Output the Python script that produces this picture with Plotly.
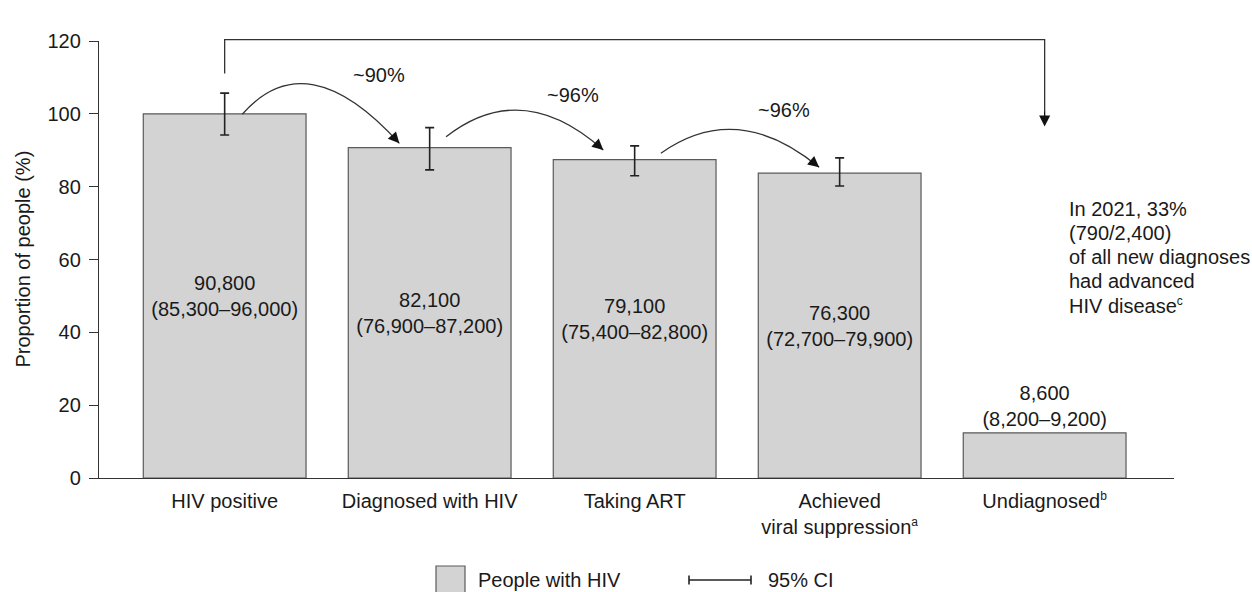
import plotly.graph_objects as go

# ---- data -------------------------------------------------------------
SUP = "<sup><span style='font-size:12px'>{}</span></sup>"
categories = [
    "HIV positive",
    "Diagnosed with HIV",
    "Taking ART",
    "Achieved<br>viral suppression" + SUP.format("a"),
    "Undiagnosed" + SUP.format("b"),
]
proportion = [100.0, 90.7, 87.4, 83.7, 12.4]          # % of people with HIV
ci_upper = [105.7, 96.2, 91.2, 87.9, None]
ci_lower = [94.2, 84.6, 83.0, 80.2, None]
counts = ["90,800", "82,100", "79,100", "76,300", "8,600"]
count_ranges = [
    "(85,300–96,000)",
    "(76,900–87,200)",
    "(75,400–82,800)",
    "(72,700–79,900)",
    "(8,200–9,200)",
]
step_labels = ["~90%", "~96%", "~96%"]
overall_label = "~9%"
note_lines = [
    "In 2021, 33%",
    "(790/2,400)",
    "of all new diagnoses",
    "had advanced",
    "HIV disease" + SUP.format("c"),
]
y_ticks = [0, 20, 40, 60, 80, 100, 120]

# ---- page geometry ------------------------------------------------------
W, H = 1252, 592
M_L, M_R, M_T, M_B = 99, 78, 41, 114
X_RANGE = [-0.613, 4.631]
Y_RANGE = [0, 120]
FONT = "Liberation Sans, Arial, Helvetica, sans-serif"
TXT = "#1a1a1a"
LINE = "#333333"

plot_w = W - M_L - M_R
plot_h = H - M_T - M_B


def px_to_paper_x(px):
    return (px - M_L) / plot_w


def px_to_paper_y(py):
    return (H - M_B - py) / plot_h


def data_to_paper_x(x):
    return (x - X_RANGE[0]) / (X_RANGE[1] - X_RANGE[0])


def data_to_paper_y(y):
    return (y - Y_RANGE[0]) / (Y_RANGE[1] - Y_RANGE[0])


x_idx = list(range(len(categories)))

fig = go.Figure()
fig.add_trace(
    go.Bar(
        x=x_idx,
        y=proportion,
        width=0.794,
        marker=dict(color="#d3d3d3", line=dict(color="#5a5a5a", width=1.2)),
        text=[f"{c}<br>{r}" for c, r in zip(counts, count_ranges)],
        textposition=["inside"] * 4 + ["outside"],
        insidetextanchor="middle",
        textangle=0,
        constraintext="none",
        cliponaxis=False,
        textfont=dict(size=20, color=TXT, family=FONT),
        hoverinfo="skip",
    )
)

# 95% confidence intervals, only where one is reported
ci_idx = [i for i, u in enumerate(ci_upper) if u is not None]
fig.add_trace(
    go.Scatter(
        x=[x_idx[i] for i in ci_idx],
        y=[proportion[i] for i in ci_idx],
        mode="markers",
        marker=dict(size=1, color="rgba(0,0,0,0)"),
        error_y=dict(
            type="data",
            symmetric=False,
            array=[ci_upper[i] - proportion[i] for i in ci_idx],
            arrayminus=[proportion[i] - ci_lower[i] for i in ci_idx],
            color="#222222",
            thickness=1.6,
            width=4.5,
        ),
        hoverinfo="skip",
    )
)

shapes = []
annotations = []

# ---- curved step arrows between consecutive bars -----------------------
# start / control / end offsets relative to the bar index and bar tops
step_arrows = [
    dict(s=(0.086, -0.1), c=(0.40, 120.0), e=(0.852, 1.2), pos=(0.755, 110.6)),
    dict(s=(0.080, 3.0), c=(0.45, 110.0), e=(0.847, 2.7), pos=(0.700, 105.1)),
    dict(s=(0.128, 1.8), c=(0.50, 104.0), e=(0.900, 1.6), pos=(0.729, 101.1)),
]
for i, (arr, label) in enumerate(zip(step_arrows, step_labels)):
    x0, y0 = i + arr["s"][0], proportion[i] + arr["s"][1]
    cx, cy = i + arr["c"][0], arr["c"][1]
    x1, y1 = i + arr["e"][0], proportion[i + 1] + arr["e"][1]
    shapes.append(
        dict(
            type="path",
            xref="x",
            yref="y",
            path=f"M {x0},{y0} Q {cx},{cy} {x1},{y1}",
            line=dict(color=LINE, width=1.3),
        )
    )
    k = 0.08
    annotations.append(
        dict(
            x=x1, y=y1, xref="x", yref="y",
            ax=x1 + k * (cx - x1), ay=y1 + k * (cy - y1), axref="x", ayref="y",
            text="", showarrow=True, arrowhead=2, arrowsize=1.7, arrowwidth=1.3,
            arrowcolor="#111111",
        )
    )
    annotations.append(
        dict(
            x=i + arr["pos"][0], y=arr["pos"][1], xref="x", yref="y", text=label,
            showarrow=False, font=dict(size=20, color=TXT, family=FONT),
        )
    )

# ---- overall bracket from first bar to last bar ------------------------
bx0, bx1 = 0, len(categories) - 1
b_top, b_left_bottom, b_tip = 120.4, 111.1, 96.5
shapes.append(
    dict(
        type="path",
        xref="paper",
        yref="paper",
        path=(
            f"M {data_to_paper_x(bx0)},{data_to_paper_y(b_left_bottom)} "
            f"V {data_to_paper_y(b_top)} "
            f"H {data_to_paper_x(bx1)} "
            f"V {data_to_paper_y(b_tip + 4)}"
        ),
        line=dict(color=LINE, width=1.3),
    )
)
annotations.append(
    dict(
        x=bx1, y=b_tip, xref="x", yref="y",
        ax=bx1, ay=b_tip + 4.5, axref="x", ayref="y",
        text="", showarrow=True, arrowhead=2, arrowsize=1.7, arrowwidth=1.3,
        arrowcolor="#111111",
    )
)
annotations.append(
    dict(
        x=(bx0 + bx1) / 2, y=125.1, xref="x", yref="y", text=overall_label,
        showarrow=False, font=dict(size=20, color=TXT, family=FONT),
    )
)

# ---- side note ----------------------------------------------------------
for j, line in enumerate(note_lines):
    annotations.append(
        dict(
            x=px_to_paper_x(1067), y=px_to_paper_y(209 + 24 * j),
            xref="paper", yref="paper", xanchor="left", yanchor="middle",
            text=line, showarrow=False, font=dict(size=20, color=TXT, family=FONT),
        )
    )

# ---- y-axis title -------------------------------------------------------
annotations.append(
    dict(
        x=px_to_paper_x(22), y=0.5, xref="paper", yref="paper",
        xanchor="center", yanchor="middle", textangle=-90,
        text="Proportion of people (%)", showarrow=False,
        font=dict(size=20, color=TXT, family=FONT),
    )
)

# ---- legend (drawn by hand) ---------------------------------------------
leg_y = 580
shapes.append(
    dict(
        type="rect", xref="paper", yref="paper",
        x0=px_to_paper_x(436), x1=px_to_paper_x(465),
        y0=px_to_paper_y(566), y1=px_to_paper_y(596),
        fillcolor="#d3d3d3", line=dict(color="#5a5a5a", width=1.2),
    )
)
annotations.append(
    dict(
        x=px_to_paper_x(476), y=px_to_paper_y(leg_y), xref="paper", yref="paper",
        xanchor="left", yanchor="middle", text="People with HIV", showarrow=False,
        font=dict(size=20, color=TXT, family=FONT),
    )
)
ci_x0, ci_x1 = 689, 751
shapes.append(
    dict(type="line", xref="paper", yref="paper",
         x0=px_to_paper_x(ci_x0), x1=px_to_paper_x(ci_x1),
         y0=px_to_paper_y(leg_y), y1=px_to_paper_y(leg_y),
         line=dict(color="#222222", width=1.5))
)
for cx_ in (ci_x0, ci_x1):
    shapes.append(
        dict(type="line", xref="paper", yref="paper",
             x0=px_to_paper_x(cx_), x1=px_to_paper_x(cx_),
             y0=px_to_paper_y(leg_y - 4.5), y1=px_to_paper_y(leg_y + 4.5),
             line=dict(color="#222222", width=1.6))
    )
annotations.append(
    dict(
        x=px_to_paper_x(766), y=px_to_paper_y(leg_y), xref="paper", yref="paper",
        xanchor="left", yanchor="middle", text="95% CI", showarrow=False,
        font=dict(size=20, color=TXT, family=FONT),
    )
)

fig.update_layout(
    width=W,
    height=H,
    margin=dict(l=M_L, r=M_R, t=M_T, b=M_B, pad=0),
    paper_bgcolor="white",
    plot_bgcolor="white",
    showlegend=False,
    font=dict(family=FONT, size=20, color=TXT),
    shapes=shapes,
    annotations=annotations,
    xaxis=dict(
        range=X_RANGE,
        tickmode="array",
        tickvals=x_idx,
        ticktext=categories,
        showline=True,
        linecolor=LINE,
        linewidth=1.3,
        ticks="",
        ticklabelstandoff=5,
        showgrid=False,
        zeroline=False,
        tickfont=dict(size=20, color=TXT, family=FONT),
        fixedrange=True,
    ),
    yaxis=dict(
        range=Y_RANGE,
        tickmode="array",
        tickvals=y_ticks,
        showline=True,
        linecolor=LINE,
        linewidth=1.3,
        ticks="outside",
        ticklen=9,
        tickwidth=1.3,
        tickcolor=LINE,
        ticklabelstandoff=4,
        showgrid=False,
        zeroline=False,
        tickfont=dict(size=20, color=TXT, family=FONT),
        fixedrange=True,
    ),
)

fig.write_html("out.html")
